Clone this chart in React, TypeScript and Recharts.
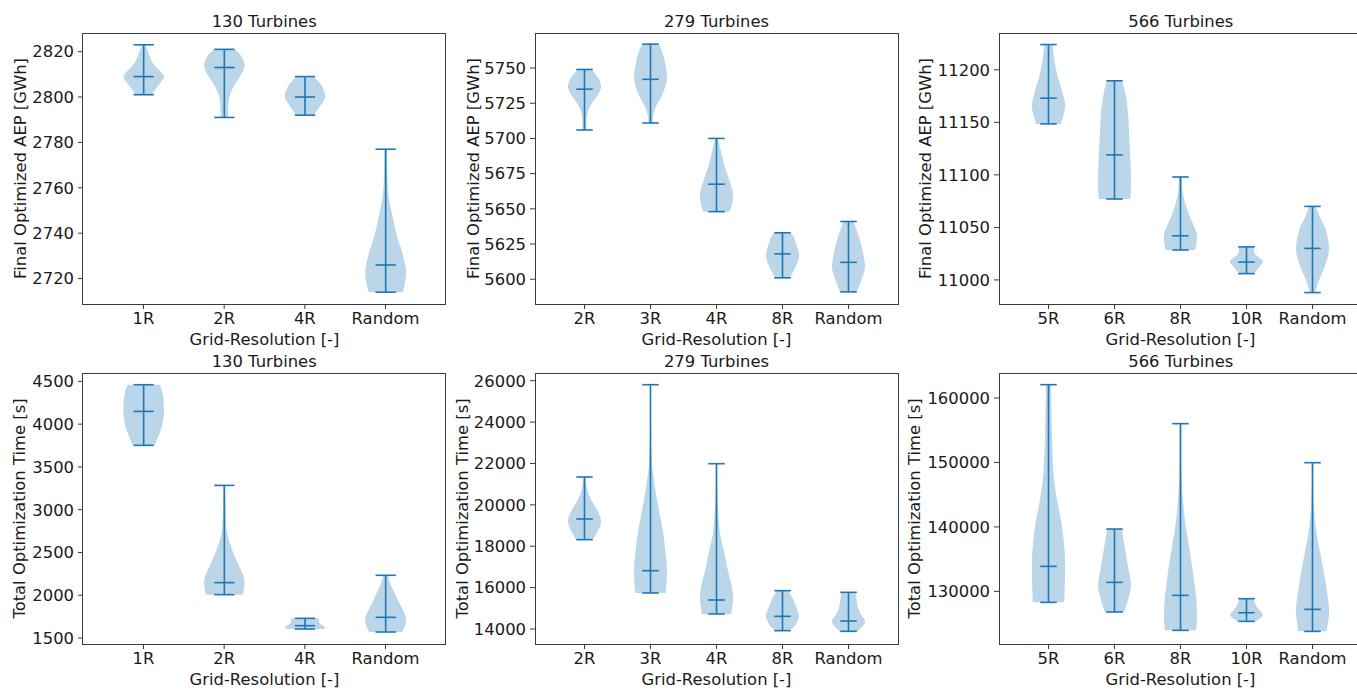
import { ComposedChart, Bar, XAxis, YAxis } from 'recharts';

const FONT = '"DejaVu Sans", Verdana, sans-serif';
const BLUE = '#1f77b4';
const INK = '#1a1a1a';
const SPINE = '#3a3a3a';
const FS = 16.4;

// ---- AEP, 130 turbines ----
const aep130Cats = ['1R', '2R', '4R', 'Random'];
const aep130Max = [2823, 2821, 2809, 2777];
const aep130Min = [2801, 2791, 2792, 2714];
const aep130Mid = [2809, 2813, 2800, 2726];
const aep130Ticks = [2720, 2740, 2760, 2780, 2800, 2820];
// [value, relative half-width] down each violin
const aep130Shape = [
  [[2823, 0.08], [2819, 0.25], [2815, 0.45], [2812, 0.75], [2809, 1], [2806, 0.8], [2803, 0.55], [2801, 0.42]],
  [[2821, 0.5], [2819, 0.75], [2817, 0.9], [2814, 1], [2811, 0.9], [2808, 0.7], [2804, 0.42], [2800, 0.25], [2796, 0.2], [2791, 0.18]],
  [[2809, 0.4], [2807, 0.65], [2804, 0.88], [2800, 1], [2796, 0.75], [2792, 0.45]],
  [[2777, 0.07], [2766, 0.08], [2756, 0.15], [2747, 0.35], [2739, 0.55], [2732, 0.8], [2724, 1], [2718, 0.95], [2714, 0.85]],
];

// ---- AEP, 279 turbines ----
const aep279Cats = ['2R', '3R', '4R', '8R', 'Random'];
const aep279Max = [5749, 5767, 5700, 5633, 5641];
const aep279Min = [5706, 5711, 5648, 5601, 5591];
const aep279Mid = [5735, 5742, 5667.5, 5618, 5612];
const aep279Ticks = [5600, 5625, 5650, 5675, 5700, 5725, 5750];
const aep279Shape = [
  [[5749, 0.45], [5745, 0.7], [5742, 0.88], [5736, 1], [5730, 0.75], [5723, 0.35], [5716, 0.15], [5706, 0.12]],
  [[5767, 0.5], [5761, 0.72], [5754, 0.88], [5743, 1], [5732, 0.75], [5723, 0.35], [5717, 0.18], [5711, 0.12]],
  [[5700, 0.08], [5692, 0.25], [5682, 0.45], [5673, 0.7], [5661, 1], [5654, 0.95], [5648, 0.8]],
  [[5633, 0.5], [5628, 0.75], [5617, 1], [5609, 0.8], [5601, 0.45]],
  [[5641, 0.3], [5633, 0.55], [5623, 0.8], [5609, 1], [5600, 0.8], [5591, 0.5]],
];

// ---- AEP, 566 turbines ----
const aep566Cats = ['5R', '6R', '8R', '10R', 'Random'];
const aep566Max = [11224, 11189.5, 11098, 11031.5, 11070];
const aep566Min = [11148.5, 11077, 11028.5, 11006, 10988];
const aep566Mid = [11173, 11119, 11042, 11017, 11030];
const aep566Ticks = [11000, 11050, 11100, 11150, 11200];
const aep566Shape = [
  [[11224, 0.25], [11210, 0.35], [11194, 0.55], [11181, 0.8], [11168, 1], [11159, 0.95], [11148.5, 0.75]],
  [[11189.5, 0.45], [11178, 0.65], [11159, 0.82], [11133, 0.9], [11108, 0.98], [11089, 1], [11077, 0.95]],
  [[11098, 0.08], [11082, 0.15], [11070, 0.35], [11057, 0.65], [11043, 1], [11028.5, 0.9]],
  [[11031.5, 0.45], [11025, 0.5], [11021, 0.8], [11017, 1], [11011, 0.7], [11006, 0.45]],
  [[11070, 0.2], [11060, 0.45], [11048, 0.8], [11029, 1], [11013, 0.75], [11000, 0.4], [10988, 0.15]],
];

// ---- Time, 130 turbines ----
const time130Cats = ['1R', '2R', '4R', 'Random'];
const time130Max = [4461, 3284, 1730, 2233];
const time130Min = [3752, 2007, 1605, 1570];
const time130Mid = [4149, 2147, 1644, 1742];
const time130Ticks = [1500, 2000, 2500, 3000, 3500, 4000, 4500];
const time130Shape = [
  [[4461, 0.8], [4344, 0.95], [4149, 1], [3994, 0.92], [3877, 0.75], [3752, 0.55]],
  [[3284, 0.05], [2981, 0.07], [2747, 0.12], [2591, 0.3], [2435, 0.55], [2279, 0.85], [2162, 1], [2007, 0.92]],
  [[1730, 0.68], [1675, 0.72], [1625, 1], [1605, 0.9]],
  [[2233, 0.1], [2123, 0.25], [1968, 0.55], [1851, 0.8], [1734, 1], [1637, 0.95], [1570, 0.8]],
];

// ---- Time, 279 turbines ----
const time279Cats = ['2R', '3R', '4R', '8R', 'Random'];
const time279Max = [21345, 25807, 21989, 15853, 15772];
const time279Min = [18317, 15740, 14725, 13920, 13887];
const time279Mid = [19316, 16819, 15402, 14612, 14387];
const time279Ticks = [14000, 16000, 18000, 20000, 22000, 24000, 26000];
const time279Shape = [
  [[21345, 0.08], [20814, 0.15], [20330, 0.35], [19847, 0.7], [19283, 1], [18800, 0.85], [18317, 0.5]],
  [[25807, 0.03], [23713, 0.04], [22102, 0.08], [20975, 0.25], [20008, 0.45], [18720, 0.75], [17431, 0.95], [16626, 1], [15740, 0.92]],
  [[21989, 0.04], [20491, 0.06], [18720, 0.2], [17753, 0.45], [16787, 0.7], [15981, 0.95], [15337, 1], [14725, 0.88]],
  [[15853, 0.35], [15498, 0.6], [15015, 0.85], [14612, 1], [14209, 0.8], [13920, 0.45]],
  [[15772, 0.45], [15337, 0.5], [14854, 0.65], [14402, 1], [14129, 0.85], [13887, 0.55]],
];

// ---- Time, 566 turbines ----
const time566Cats = ['5R', '6R', '8R', '10R', 'Random'];
const time566Max = [162069, 139674, 156018, 128865, 149966];
const time566Min = [128296, 126796, 123952, 125348, 123796];
const time566Mid = [133881, 131398, 129382, 126692, 127210];
const time566Ticks = [130000, 140000, 150000, 160000];
const time566Shape = [
  [[162069, 0.15], [155345, 0.2], [148622, 0.3], [144484, 0.5], [140346, 0.8], [136209, 0.98], [132071, 1], [128296, 0.95]],
  [[139674, 0.45], [137243, 0.6], [134140, 0.8], [131036, 1], [128967, 0.85], [126796, 0.6]],
  [[156018, 0.05], [147587, 0.08], [141381, 0.25], [137243, 0.5], [133106, 0.75], [128967, 0.95], [126381, 1], [123952, 0.95]],
  [[128865, 0.45], [127934, 0.55], [126900, 0.85], [126381, 1], [125864, 0.85], [125348, 0.55]],
  [[149966, 0.05], [145001, 0.06], [139829, 0.2], [136209, 0.45], [132071, 0.75], [127417, 1], [125348, 0.95], [123796, 0.85]],
];

const AEP_LABEL = 'Final Optimized AEP [GWh]';
const TIME_LABEL = 'Total Optimization Time [s]';

const PLOT_W = 363;
const PLOT_H = 271;
const YW = 100; // y-axis box width
const MT = 2;
const XH = 50;

type Pt = { x: number; y: number };

// catmull-rom through the outline points
function curve(pts: Pt[], start: string) {
  let d = `${start}${pts[0].x},${pts[0].y}`;
  for (let i = 0; i < pts.length - 1; i++) {
    const p0 = pts[i - 1] || pts[i];
    const p1 = pts[i];
    const p2 = pts[i + 1];
    const p3 = pts[i + 2] || p2;
    const c1x = p1.x + (p2.x - p0.x) / 6;
    const c1y = p1.y + (p2.y - p0.y) / 6;
    const c2x = p2.x - (p3.x - p1.x) / 6;
    const c2y = p2.y - (p3.y - p1.y) / 6;
    d += ` C${c1x},${c1y} ${c2x},${c2y} ${p2.x},${p2.y}`;
  }
  return d;
}

// eslint-disable-next-line @typescript-eslint/no-explicit-any
function Violin(props: any) {
  const { x, y, width, height, payload } = props;
  if (!payload) return null;
  const top = Math.min(y, y + height);
  const bottom = Math.max(y, y + height);
  const [lo, hi] = payload.range;
  const toPx = (v: number) => bottom - ((v - lo) / (hi - lo)) * (bottom - top);
  const cx = x + width / 2;
  const half = width * 0.25;
  const cap = width * 0.125;
  const shape: number[][] = payload.shape;
  const left = shape.map(([v, w]) => ({ x: cx - w * half, y: toPx(v) }));
  const right = [...shape].reverse().map(([v, w]) => ({ x: cx + w * half, y: toPx(v) }));
  const d = curve(left, 'M') + ' ' + curve(right, 'L') + ' Z';
  const ym = toPx(payload.mid);
  return (
    <g>
      <path d={d} fill={BLUE} fillOpacity={0.3} stroke="none" />
      <line x1={cx} x2={cx} y1={top} y2={bottom} stroke={BLUE} strokeWidth={1.6} />
      <line x1={cx - cap} x2={cx + cap} y1={top} y2={top} stroke={BLUE} strokeWidth={1.6} />
      <line x1={cx - cap} x2={cx + cap} y1={bottom} y2={bottom} stroke={BLUE} strokeWidth={1.6} />
      <line x1={cx - cap} x2={cx + cap} y1={ym} y2={ym} stroke={BLUE} strokeWidth={1.6} />
    </g>
  );
}

// eslint-disable-next-line @typescript-eslint/no-explicit-any
function YLabel({ viewBox, text, dist }: any) {
  if (!viewBox) return null;
  const cx = viewBox.x + viewBox.width - dist;
  const cy = viewBox.y + viewBox.height / 2;
  return (
    <text x={cx} y={cy} dy="0.36em" transform={`rotate(-90, ${cx}, ${cy})`} textAnchor="middle"
      fontSize={FS} fill={INK} fontFamily={FONT}>
      {text}
    </text>
  );
}

// eslint-disable-next-line @typescript-eslint/no-explicit-any
function XLabel({ viewBox }: any) {
  if (!viewBox) return null;
  return (
    <text x={viewBox.x + viewBox.width / 2} y={viewBox.y + 41} textAnchor="middle"
      fontSize={FS} fill={INK} fontFamily={FONT}>
      Grid-Resolution [-]
    </text>
  );
}

interface PanelProps {
  left: number;
  top: number;
  title: string;
  yLabel: string;
  labelDist: number;
  domain: [number, number];
  ticks: number[];
  cats: string[];
  mins: number[];
  maxs: number[];
  mids: number[];
  shapes: number[][][];
}

function Panel(p: PanelProps) {
  const rows = p.cats.map((name, i) => ({
    name,
    range: [p.mins[i], p.maxs[i]],
    mid: p.mids[i],
    shape: p.shapes[i],
  }));
  // matplotlib xlim is 0.25 units wider than the outer positions
  const pad = (PLOT_W / (p.cats.length + 0.5)) * 0.25;
  const tickStyle = { fontSize: FS, fill: INK, fontFamily: FONT };
  return (
    <>
      <div
        style={{
          position: 'absolute', left: p.left, top: p.top - 21.5, width: PLOT_W,
          textAlign: 'center', fontSize: FS, lineHeight: '20px', color: INK, fontFamily: FONT,
        }}
      >
        {p.title}
      </div>
      <div style={{ position: 'absolute', left: p.left - YW, top: p.top - MT }}>
        <ComposedChart
          width={YW + PLOT_W + 2}
          height={MT + PLOT_H + XH}
          data={rows}
          margin={{ top: MT, right: 2, bottom: 0, left: 0 }}
          barCategoryGap={0}
        >
          <XAxis
            dataKey="name"
            type="category"
            interval={0}
            padding={{ left: pad, right: pad }}
            height={XH}
            tick={tickStyle}
            tickSize={5}
            tickMargin={3}
            tickLine={{ stroke: SPINE }}
            axisLine={false}
            label={<XLabel />}
          />
          <YAxis
            type="number"
            domain={p.domain}
            ticks={p.ticks}
            allowDataOverflow
            interval={0}
            width={YW}
            tick={tickStyle}
            tickSize={5}
            tickMargin={4}
            tickLine={{ stroke: SPINE }}
            axisLine={false}
            label={<YLabel text={p.yLabel} dist={p.labelDist} />}
          />
          <Bar dataKey="range" shape={<Violin />} isAnimationActive={false} />
        </ComposedChart>
      </div>
      {/* axes frame */}
      <div
        style={{
          position: 'absolute', left: p.left - 0.5, top: p.top - 0.5, width: PLOT_W + 1, height: PLOT_H + 1,
          border: `1px solid ${SPINE}`, boxSizing: 'border-box', pointerEvents: 'none',
        }}
      />
    </>
  );
}

export default function App() {
  return (
    <div
      style={{
        position: 'absolute', left: 0, top: 0, width: 1357, height: 691,
        overflow: 'hidden', background: '#fff', fontFamily: FONT,
      }}
    >
      <Panel left={82.7} top={33.3} title="130 Turbines" yLabel={AEP_LABEL} labelDist={63}
        domain={[2708.8, 2828.2]} ticks={aep130Ticks} cats={aep130Cats}
        mins={aep130Min} maxs={aep130Max} mids={aep130Mid} shapes={aep130Shape} />
      <Panel left={535} top={33.3} title="279 Turbines" yLabel={AEP_LABEL} labelDist={62}
        domain={[5582.4, 5774.9]} ticks={aep279Ticks} cats={aep279Cats}
        mins={aep279Min} maxs={aep279Max} mids={aep279Mid} shapes={aep279Shape} />
      <Panel left={999.3} top={33.3} title="566 Turbines" yLabel={AEP_LABEL} labelDist={74}
        domain={[10977.1, 11235]} ticks={aep566Ticks} cats={aep566Cats}
        mins={aep566Min} maxs={aep566Max} mids={aep566Mid} shapes={aep566Shape} />
      <Panel left={82.7} top={373.3} title="130 Turbines" yLabel={TIME_LABEL} labelDist={63.4}
        domain={[1430, 4598]} ticks={time130Ticks} cats={time130Cats}
        mins={time130Min} maxs={time130Max} mids={time130Mid} shapes={time130Shape} />
      <Panel left={535} top={373.3} title="279 Turbines" yLabel={TIME_LABEL} labelDist={73}
        domain={[13275, 26372]} ticks={time279Ticks} cats={time279Cats}
        mins={time279Min} maxs={time279Max} mids={time279Mid} shapes={time279Shape} />
      <Panel left={999.3} top={373.3} title="566 Turbines" yLabel={TIME_LABEL} labelDist={85}
        domain={[121837, 163880]} ticks={time566Ticks} cats={time566Cats}
        mins={time566Min} maxs={time566Max} mids={time566Mid} shapes={time566Shape} />
    </div>
  );
}
